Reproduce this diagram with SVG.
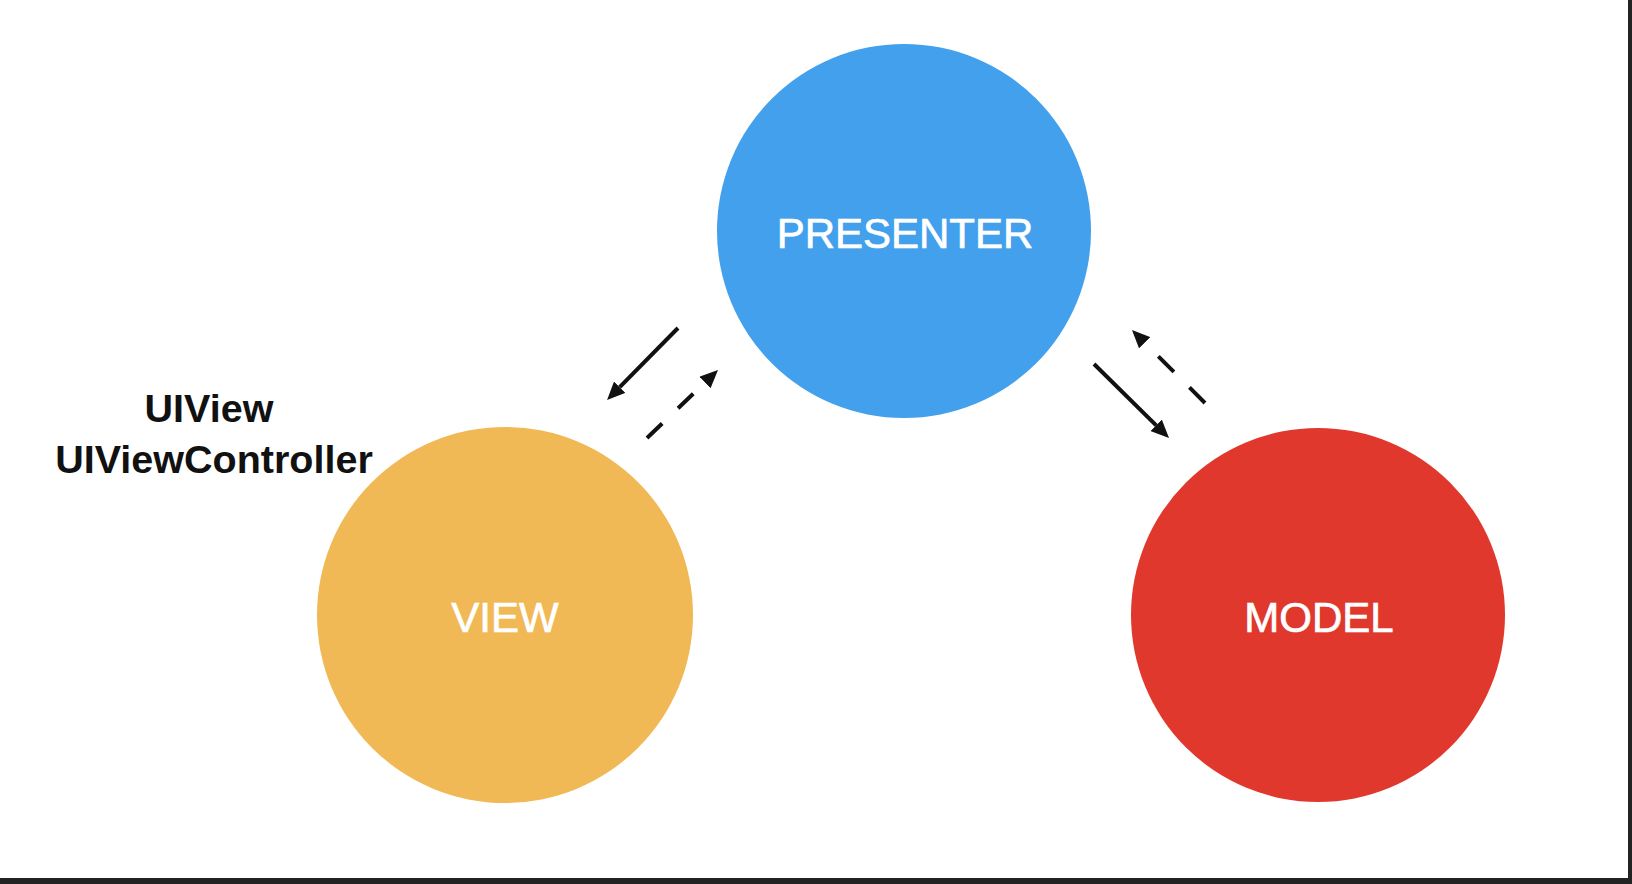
<svg xmlns="http://www.w3.org/2000/svg" width="1632" height="884" viewBox="0 0 1632 884">
  <style>
    .node-label { font-family: "Liberation Sans", Arial, sans-serif; font-size: 42px; fill: #FFFFFF; stroke: #FFFFFF; stroke-width: 0.7; text-anchor: middle; }
    .side-label { font-family: "Liberation Sans", Arial, sans-serif; font-size: 39.5px; font-weight: bold; fill: #111111; text-anchor: middle; }
    .conn { stroke: #111111; stroke-width: 4; fill: none; }
    .dashed { stroke-dasharray: 21 22; }
  </style>
  <defs>
    <marker id="arrow" markerUnits="userSpaceOnUse" markerWidth="18" markerHeight="16" refX="0" refY="8" orient="auto" viewBox="0 0 18 16">
      <path d="M0,0 L18,8 L0,16 z" fill="#111111"/>
    </marker>
  </defs>
  <rect x="0" y="0" width="1632" height="884" fill="#232323"/>
  <rect x="0" y="0" width="1628" height="878" fill="#FFFFFF"/>

  <g id="presenter">
    <circle cx="904" cy="231" r="187" fill="#42A0EC"/>
    <text class="node-label" x="905" y="248">PRESENTER</text>
  </g>
  <g id="view">
    <circle cx="505" cy="615" r="188" fill="#F0B955"/>
    <text class="node-label" x="505" y="632">VIEW</text>
  </g>
  <g id="model">
    <circle cx="1318" cy="615" r="187" fill="#E0382D"/>
    <text class="node-label" x="1319" y="632">MODEL</text>
  </g>
  <g id="view-label">
    <text class="side-label" x="209" y="422">UIView</text>
    <text class="side-label" x="214" y="473">UIViewController</text>
  </g>

  <g id="connectors">
    <line class="conn" x1="678" y1="328" x2="619.7" y2="387.2" marker-end="url(#arrow)"/>
    <line class="conn dashed" x1="647" y1="438" x2="705" y2="382.5" marker-end="url(#arrow)"/>
    <line class="conn" x1="1094" y1="364" x2="1156.2" y2="425.3" marker-end="url(#arrow)"/>
    <line class="conn dashed" x1="1205" y1="403" x2="1144.7" y2="342.7" style="stroke-dasharray: 22 22" marker-end="url(#arrow)"/>
  </g>
</svg>
